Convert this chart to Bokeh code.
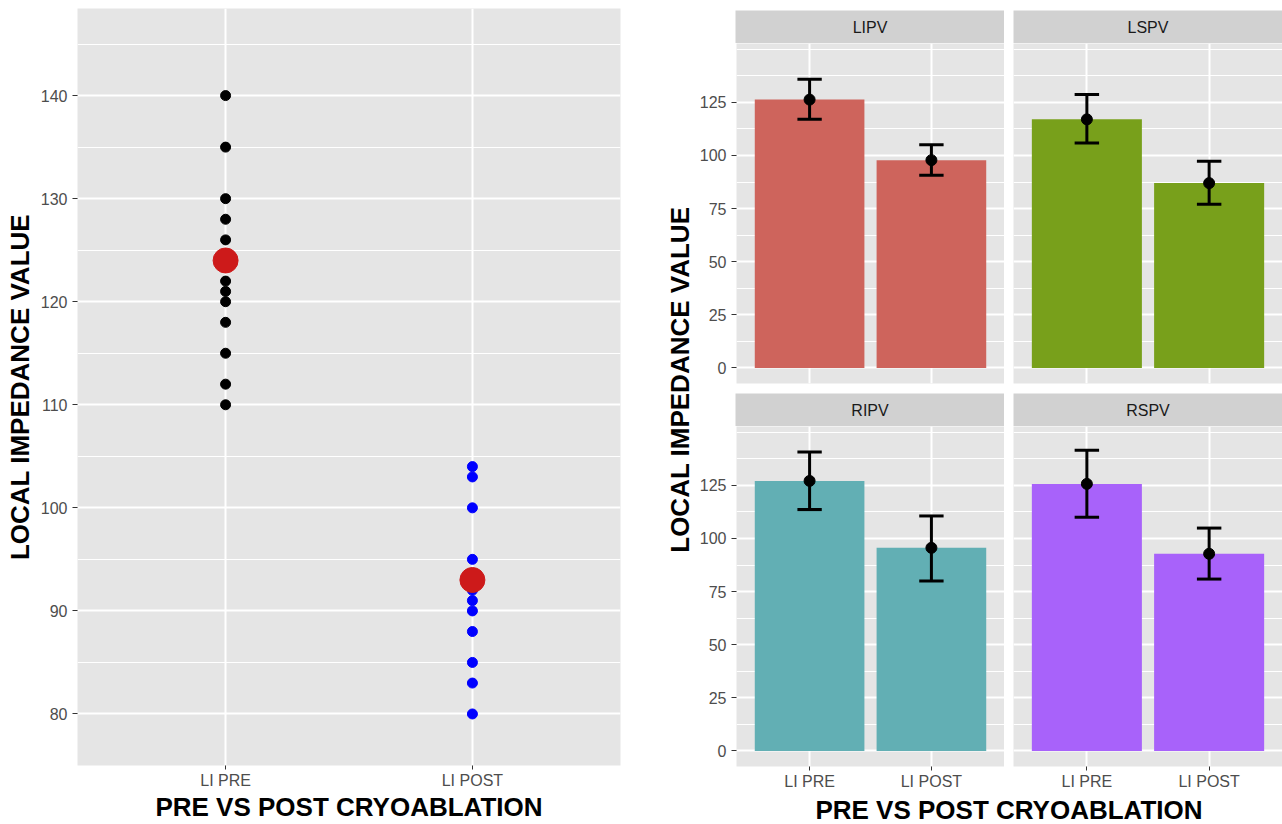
import math
from bokeh.plotting import figure
from bokeh.layouts import row, column
from bokeh.models import Range1d, FixedTicker, Label, LinearAxis, Grid
from bokeh.embed import file_html
from bokeh.resources import INLINE

# ---------------- data ----------------
groups = ["LI PRE", "LI POST"]
li_pre_values = [140, 135, 130, 128, 126, 122, 121, 120, 118, 115, 112, 110]
li_post_values = [104, 103, 100, 95, 92, 91, 90, 88, 85, 83, 80]
group_means = [124.0, 93.0]

veins = ["LIPV", "LSPV", "RIPV", "RSPV"]
vein_colors = ["#CE645C", "#78A01B", "#62AFB4", "#A862FA"]
mean_pre = [126.3, 117.0, 127.1, 125.7]
mean_post = [97.8, 87.0, 95.6, 92.8]
lower_pre = [117.0, 105.9, 113.6, 110.0]
upper_pre = [135.9, 128.7, 140.7, 141.5]
lower_post = [90.7, 77.0, 80.0, 80.9]
upper_post = [105.1, 97.3, 110.6, 104.9]

left_ticks = [80, 90, 100, 110, 120, 130, 140]
left_minor = [75, 85, 95, 105, 115, 125, 135, 145]
bar_ticks = [0, 25, 50, 75, 100, 125]
bar_minor = [12.5, 37.5, 62.5, 87.5, 112.5, 137.5, 150]

y_title = "LOCAL IMPEDANCE VALUE"
x_title = "PRE VS POST CRYOABLATION"

# ---------------- style ----------------
FONT = "Liberation Sans"
PANEL_BG = "#E5E5E5"
STRIP_BG = "#D1D1D1"
TICK_TXT = "#4D4D4D"
TICK_COL = "#333333"

group_x = list(range(1, len(groups) + 1))
label_map = {x: g for x, g in zip(group_x, groups)}


def base_fig(w, h, xr, yr, mbl, mbr, mbt, mbb, bg=PANEL_BG):
    p = figure(width=w, height=h, x_range=xr, y_range=yr,
               x_axis_type=None, y_axis_type=None,
               toolbar_location=None, output_backend="svg",
               min_border_left=mbl, min_border_right=mbr,
               min_border_top=mbt, min_border_bottom=mbb)
    p.outline_line_color = None
    p.border_fill_color = "white"
    p.background_fill_color = bg
    return p


def add_grids(p, yticks, yminor):
    p.add_layout(Grid(dimension=0, ticker=FixedTicker(ticks=group_x, minor_ticks=[]),
                      grid_line_color="white", grid_line_width=2))
    p.add_layout(Grid(dimension=1, ticker=FixedTicker(ticks=yticks, minor_ticks=yminor),
                      grid_line_color="white", grid_line_width=2,
                      minor_grid_line_color="white", minor_grid_line_width=1))


def style_axis(ax):
    ax.axis_line_color = None
    ax.major_tick_line_color = TICK_COL
    ax.major_tick_line_width = 1
    ax.major_tick_in = 0
    ax.minor_tick_line_color = None
    ax.major_label_text_font = FONT
    ax.major_label_text_font_size = "16px"
    ax.major_label_text_color = TICK_TXT
    ax.axis_label_text_font = FONT
    ax.axis_label_text_font_size = "26px"
    ax.axis_label_text_font_style = "bold"
    ax.axis_label_text_color = "black"


def add_y_axis(p, ticks, label=None):
    ax = LinearAxis(ticker=FixedTicker(ticks=ticks, minor_ticks=[]), axis_label=label)
    style_axis(ax)
    ax.major_tick_out = 5
    ax.major_label_standoff = 5
    ax.axis_label_standoff = 3
    p.add_layout(ax, "left")


def add_x_axis(p, label=None):
    ax = LinearAxis(ticker=FixedTicker(ticks=group_x, minor_ticks=[]), axis_label=label)
    style_axis(ax)
    ax.major_label_overrides = label_map
    ax.major_tick_out = 4
    ax.major_label_standoff = 2
    ax.axis_label_standoff = 0
    p.add_layout(ax, "below")


# ---------------- left chart ----------------
left = base_fig(640, 824, Range1d(0.4, 2.6), Range1d(75.0, 148.45), 77, 20, 8, 59)
add_grids(left, left_ticks, left_minor)
add_y_axis(left, left_ticks, y_title)
add_x_axis(left, x_title)
left.scatter(x=[group_x[0]] * len(li_pre_values), y=li_pre_values, size=10,
             fill_color="black", line_color="black")
left.scatter(x=[group_x[1]] * len(li_post_values), y=li_post_values, size=10,
             fill_color="#0000FF", line_color="#0000FF")
left.scatter(x=group_x, y=group_means, size=25, fill_color="#CD1A1A", line_color="#CD1A1A")

# ---------------- right: y title ----------------
YT_W = 56
ytf = base_fig(YT_W, 824, Range1d(0, YT_W), Range1d(0, 824), 0, 0, 0, 0, bg="white")
ytf.add_layout(Label(x=39, y=420, text=y_title, angle=math.pi / 2,
                     text_align="center", text_baseline="middle",
                     text_font=FONT, text_font_size="26px", text_font_style="bold",
                     text_color="black"))

# ---------------- facets ----------------
W1, W2 = 308, 278
M1, M2 = 39, 9


def strip_fig(name, first_col, top_row):
    w = W1 if first_col else W2
    mbl = M1 if first_col else M2
    h = 43 if top_row else 33
    mbt = 10 if top_row else 0
    s = base_fig(w, h, Range1d(0, 1), Range1d(0, 1), mbl, 0, mbt, 0, bg=STRIP_BG)
    s.add_layout(Label(x=0.5, y=0.5, text=name, text_align="center", text_baseline="middle",
                       text_font=FONT, text_font_size="16px", text_color="#1A1A1A"))
    return s


def facet_fig(i, first_col, top_row):
    w = W1 if first_col else W2
    mbl = M1 if first_col else M2
    h = 350 if top_row else 366
    mbb = 10 if top_row else 26
    p = base_fig(w, h, Range1d(0.4, 2.6), Range1d(-7.3, 152.7), mbl, 0, 0, mbb)
    add_grids(p, bar_ticks, bar_minor)
    if first_col:
        add_y_axis(p, bar_ticks)
    if not top_row:
        add_x_axis(p)
    means = [mean_pre[i], mean_post[i]]
    lows = [lower_pre[i], lower_post[i]]
    highs = [upper_pre[i], upper_post[i]]
    p.vbar(x=group_x, top=means, bottom=0, width=0.9,
           fill_color=vein_colors[i], line_color=None)
    p.segment(x0=group_x, y0=lows, x1=group_x, y1=highs, line_color="black", line_width=3)
    p.segment(x0=[x - 0.1 for x in group_x], y0=highs, x1=[x + 0.1 for x in group_x], y1=highs,
              line_color="black", line_width=3)
    p.segment(x0=[x - 0.1 for x in group_x], y0=lows, x1=[x + 0.1 for x in group_x], y1=lows,
              line_color="black", line_width=3)
    p.scatter(x=group_x, y=means, size=11, fill_color="black", line_color="black")
    return p


s1 = strip_fig(veins[0], True, True)
s2 = strip_fig(veins[1], False, True)
f1 = facet_fig(0, True, True)
f2 = facet_fig(1, False, True)
s3 = strip_fig(veins[2], True, False)
s4 = strip_fig(veins[3], False, False)
f3 = facet_fig(2, True, False)
f4 = facet_fig(3, False, False)

XT_H = 32
xtf = base_fig(W1 + W2, XT_H, Range1d(0, W1 + W2), Range1d(0, XT_H), 0, 0, 0, 0, bg="white")
xtf.add_layout(Label(x=312.5, y=14.5, text=x_title, text_align="center", text_baseline="middle",
                     text_font=FONT, text_font_size="26px", text_font_style="bold",
                     text_color="black"))

right = column(row(s1, s2), row(f1, f2), row(s3, s4), row(f3, f4), xtf)
layout = row(left, ytf, right)

open("out.html", "w").write(file_html(layout, INLINE))
